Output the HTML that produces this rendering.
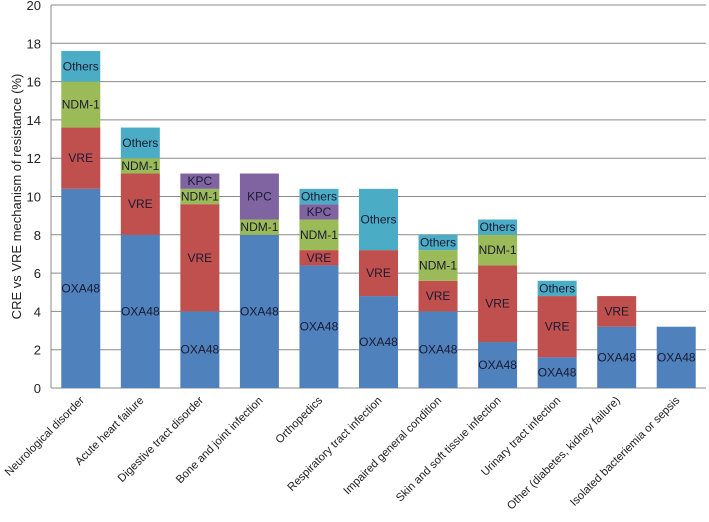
<!DOCTYPE html>
<html><head><meta charset="utf-8"><style>
body{margin:0;background:#fff;font-family:"Liberation Sans",sans-serif}
svg text{font-family:"Liberation Sans",sans-serif}
</style></head><body>
<svg id="chart" width="709" height="517"></svg>
<script>
const categories=["Neurological disorder","Acute heart failure","Digestive tract disorder","Bone and joint infection","Orthopedics","Respiratory tract infection","Impaired general condition","Skin and soft tissue infection","Urinary tract infection","Other (diabetes, kidney failure)","Isolated bacteriemia or sepsis"];
const seriesNames=["OXA48","VRE","NDM-1","KPC","Others"];
const oxa48=[10.4,8,4,8,6.4,4.8,4,2.4,1.6,3.2,3.2];
const vre=[3.2,3.2,5.6,0,0.8,2.4,1.6,4,3.2,1.6,0];
const ndm1=[2.4,0.8,0.8,0.8,1.6,0,1.6,1.6,0,0,0];
const kpc=[0,0,0.8,2.4,0.8,0,0,0,0,0,0];
const others=[1.6,1.6,0,0,0.8,3.2,0.8,0.8,0.8,0,0];
const yTicks=[0,2,4,6,8,10,12,14,16,18,20];
const colors=["#4F81BD","#C0504D","#9BBB59","#8064A2","#4BACC6"];
const series=[oxa48,vre,ndm1,kpc,others];
const NS="http://www.w3.org/2000/svg";
const svg=document.getElementById("chart");
const L=51,R=706,T=5,B=388;
const y=v=>B-(v/20)*(B-T);
const bw=(R-L)/categories.length;
const x=i=>L+bw*i+bw/2;
function mk(t,a){const e=document.createElementNS(NS,t);for(const k in a)e.setAttribute(k,a[k]);svg.appendChild(e);return e;}
yTicks.forEach(v=>{
  const g=mk("line",{x1:L,x2:R,y1:y(v),y2:y(v),stroke:"#8a8a8a","stroke-width":1});
  
  
  const t=mk("text",{x:L-10,y:y(v)+5,"text-anchor":"end","font-size":13,fill:"#222"});
  t.textContent=v;
  
  
});
const ax=mk("line",{x1:L,x2:L,y1:T,y2:B,stroke:"#8a8a8a"});


const yt=mk("text",{x:0,y:0,transform:`translate(21,${(T+B)/2}) rotate(-90)`,"text-anchor":"middle","font-size":13,fill:"#222"});
yt.textContent="CRE vs VRE mechanism of resistance (%)";


categories.forEach((c,i)=>{
  let base=0;
  series.forEach((s,k)=>{
    const v=s[i]; if(!v)return;
    const r=mk("rect",{x:x(i)-19.5,width:39,y:y(base+v),height:y(base)-y(base+v),fill:colors[k]});
    
    
    const t=mk("text",{x:x(i),y:(y(base)+y(base+v))/2+4,"text-anchor":"middle","font-size":12,fill:"#1a1a30"});
    t.textContent=seriesNames[k];
    
    
    base+=v;
  });
  const lb=mk("text",{x:0,y:0,transform:`translate(${x(i)+4},${B+13}) rotate(-45)`,"text-anchor":"end","font-size":11.3,fill:"#222"});
  lb.textContent=c;
  
  
});
</script>
</body></html>
